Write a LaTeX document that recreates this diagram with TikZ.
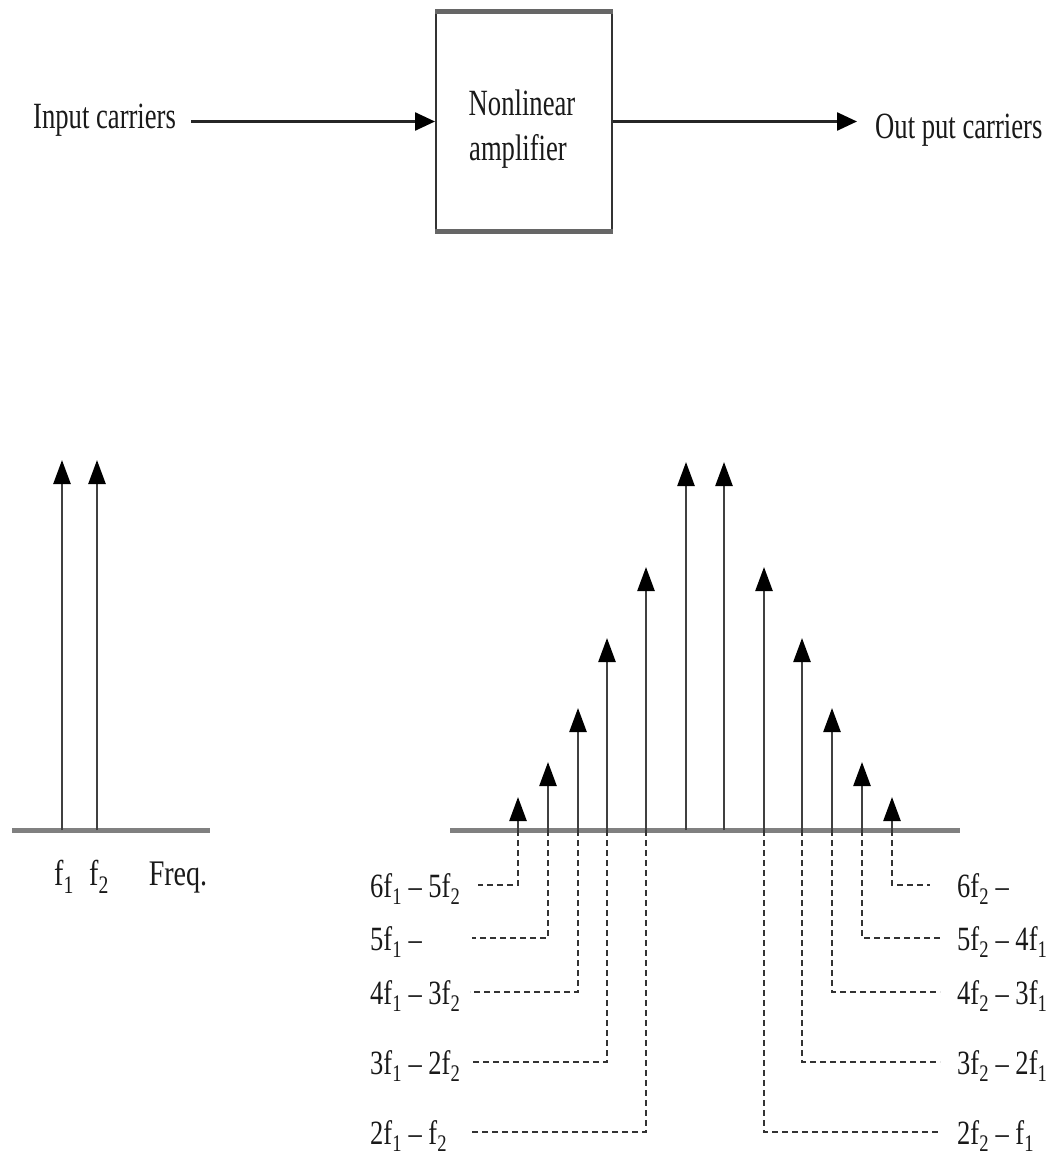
\documentclass[tikz,border=0pt]{standalone}
\usepackage{fontspec}
\setmainfont{Liberation Serif}
\usetikzlibrary{arrows.meta}
\newcommand\nt[1]{\scalebox{0.72}[1]{#1}}
\newcommand\lt[1]{\scalebox{0.78}[1]{#1}}
\newcommand\sbs[1]{\textsubscript{#1}}
\begin{document}
\begin{tikzpicture}[x=1pt,y=-1pt,
  txt/.style={font=\fontsize{37}{40}\selectfont, inner sep=0pt, text=black!90},
  lab/.style={font=\fontsize{34}{38}\selectfont, inner sep=0pt, text=black!90, anchor=base west},
  conn/.style={line width=2.5pt, black!85, -{Triangle[length=20pt,width=18pt,color=black]}},
  spike/.style={line width=2.5pt, black!75, -{Triangle[length=24pt,width=17pt,color=black]}},
  axis/.style={line width=5pt, black!50},
  lead/.style={line width=2.2pt, black!80, dash pattern=on 6pt off 4pt},
  box/.style={draw=black!80, line width=2pt, minimum width=176pt, minimum height=217pt, inner sep=0pt}
]
\useasboundingbox (0,0) rectangle (1050,1172);

% ---- block diagram ----
\node[box] (amp) at (524,121.5) {};
\draw[line width=5pt, black!60] (amp.north west) -- (amp.north east);
\draw[line width=5pt, black!60] (amp.south west) -- (amp.south east);
\node[txt, anchor=base] (nl) at (522,115) {\nt{Nonlinear}};
\node[txt, anchor=base] (am) at (518,160) {\nt{amplifier}};
\node[txt, anchor=base west] (inp) at (33,128) {\nt{Input carriers}};
\node[txt, anchor=base west] (outp) at (875,138) {\nt{Out put carriers}};
\coordinate (inS) at (191,121.5);
\coordinate (outE) at (857,121.5);
\draw[conn] (inS) -- (amp.west);
\draw[conn] (amp.east) -- (outE);

% ---- input spectrum ----
\coordinate (axL0) at (12,830);
\coordinate (axL1) at (210,830);
\draw[axis] (axL0) -- (axL1);
\coordinate (fa0) at (62,830); \coordinate (fa1) at (62,460);
\coordinate (fb0) at (97,830); \coordinate (fb1) at (97,460);
\draw[spike] (fa0) -- (fa1);
\draw[spike] (fb0) -- (fb1);
\node[txt, font=\fontsize{36}{40}\selectfont, anchor=base] (lf1) at (64,885) {\lt{f\sbs{1}}};
\node[txt, font=\fontsize{36}{40}\selectfont, anchor=base] (lf2) at (99,885) {\lt{f\sbs{2}}};
\node[txt, font=\fontsize{36}{40}\selectfont, anchor=base] (lfr) at (178,885) {\lt{Freq.}};

% ---- output spectrum ----
\coordinate (axR0) at (450,830);
\coordinate (axR1) at (960,830);
\draw[axis] (axR0) -- (axR1);

% central carriers
\coordinate (c1b) at (686,830); \coordinate (c1t) at (686,462);
\coordinate (c2b) at (724,830); \coordinate (c2t) at (724,462);
\draw[spike] (c1b) -- (c1t);
\draw[spike] (c2b) -- (c2t);

% intermodulation products: x, tip y, row y, lead end x, label
\foreach \n/\x/\t/\r/\e/\lbl in {
  l1/646/567/1132/470/{2f\sbs{1} – f\sbs{2}},
  l2/607/638/1062/472/{3f\sbs{1} – 2f\sbs{2}},
  l3/578/708/992/470/{4f\sbs{1} – 3f\sbs{2}},
  l4/548/762/938/472/{5f\sbs{1} –},
  l5/518/797/885/478/{6f\sbs{1} – 5f\sbs{2}}}{
  \coordinate (\n b) at (\x,830);
  \coordinate (\n t) at (\x,\t);
  \coordinate (\n c) at (\x,\r);
  \coordinate (\n e) at (\e,\r);
  \draw[spike] (\n b) -- (\n t);
  \draw[lead] (\n b) -- (\n c) -- (\n e);
  \node[lab] (\n lab) at (370,\r+12) {\lt{\lbl}};
}
\foreach \n/\x/\t/\r/\e/\lbl in {
  r1/764/567/1132/940/{2f\sbs{2} – f\sbs{1}},
  r2/802/638/1062/940/{3f\sbs{2} – 2f\sbs{1}},
  r3/832/708/992/940/{4f\sbs{2} – 3f\sbs{1}},
  r4/862/762/938/940/{5f\sbs{2} – 4f\sbs{1}},
  r5/892/797/885/930/{6f\sbs{2} –}}{
  \coordinate (\n b) at (\x,830);
  \coordinate (\n t) at (\x,\t);
  \coordinate (\n c) at (\x,\r);
  \coordinate (\n e) at (\e,\r);
  \draw[spike] (\n b) -- (\n t);
  \draw[lead] (\n b) -- (\n c) -- (\n e);
  \node[lab] (\n lab) at (957,\r+12) {\lt{\lbl}};
}
\end{tikzpicture}
\end{document}
